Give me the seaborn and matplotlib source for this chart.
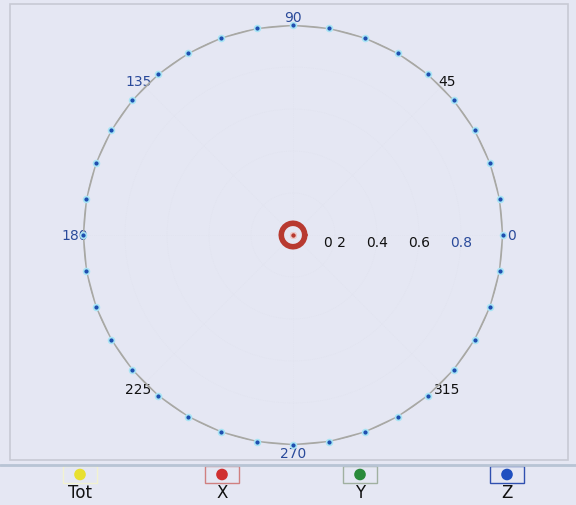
import numpy as np
import pandas as pd
import matplotlib
matplotlib.use("Agg")
import matplotlib.pyplot as plt
import matplotlib.transforms as mtransforms
from matplotlib.patches import Rectangle
import seaborn as sns

# ---- data ----
angles_deg = list(range(0, 360, 10))
tot_r = [1.0] * 36
z_r = [1.0] * 36
x_angles_deg = list(range(0, 361, 15))
x_r = [0.056] * len(x_angles_deg)
y_r = [0.0] * len(x_angles_deg)
theta_ticks = [0, 45, 90, 135, 180, 225, 270, 315]
theta_labels = ["0", "45", "90", "135", "180", "225", "270", "315"]
theta_label_colors = ["#2a4a9a", "#111111", "#2a4a9a", "#2a4a9a", "#2a4a9a", "#111111", "#2a4a9a", "#111111"]
r_ticks = [0.2, 0.4, 0.6, 0.8]
r_labels = ["0 2", "0.4", "0.6", "0.8"]
r_label_colors = ["#111111", "#111111", "#111111", "#2a4a9a"]
series_names = ["Tot", "X", "Y", "Z"]
series_colors = ["#e8e030", "#d03030", "#2a8a3a", "#2050c0"]
box_colors = ["#f2f2d0", "#d08080", "#a0b0a0", "#3050b0"]

sns.set_theme(style="white")
plt.rcParams['font.family'] = ['DejaVu Sans']
bg = "#e5e7f3"

fig = plt.figure(figsize=(5.76, 5.06), dpi=100, facecolor=bg)
W, H = 576, 506

# frame of plot area
fig.patches.append(Rectangle((10 / W, 1 - 461 / H), 558 / W, 456 / H, transform=fig.transFigure,
                             fill=False, edgecolor="#c8cad4", linewidth=1.2))
fig.lines.append(plt.Line2D([0, 1], [1 - 466 / H, 1 - 466 / H], transform=fig.transFigure,
                            color="#b8c4d4", linewidth=2.0))

cx, cy, R = 293, 236, 210
ax = fig.add_axes([(cx - R) / W, 1 - (cy + R) / H, 2 * R / W, 2 * R / H], projection="polar")
ax.set_facecolor(bg)
ax.patch.set_alpha(0)
ax.set_ylim(0, 1.0)
ax.spines["polar"].set_visible(False)
ax.grid(True, color="#e0e2ee", linewidth=0.5, linestyle=":")

df_tot = pd.DataFrame({"theta": np.deg2rad(angles_deg + [360]), "r": tot_r + tot_r[:1]})
df_z = pd.DataFrame({"theta": np.deg2rad(angles_deg), "r": z_r})
df_x = pd.DataFrame({"theta": np.deg2rad(x_angles_deg), "r": x_r})
df_y = pd.DataFrame({"theta": np.deg2rad(x_angles_deg), "r": y_r})

sns.lineplot(data=df_tot, x="theta", y="r", sort=False, ax=ax, color="#a8a8a4",
             linewidth=1.6, estimator=None)
sns.scatterplot(data=df_z, x="theta", y="r", ax=ax, color="#1f4fb0", s=18,
                edgecolor="#a8e4f4", linewidth=1.2, zorder=5, clip_on=False)
sns.lineplot(data=df_x, x="theta", y="r", sort=False, ax=ax, color="#b83a30",
             linewidth=4.0, estimator=None)
sns.scatterplot(data=df_y, x="theta", y="r", ax=ax, color="#b83a30", s=16,
                edgecolor="#f0d0d0", linewidth=0.8, zorder=6)
ax.set_xlabel("")
ax.set_ylabel("")

ax.set_xticks(np.deg2rad(theta_ticks))
ax.set_xticklabels(theta_labels, fontsize=10)
ax.tick_params(axis="x", pad=-7)
for lbl, c in zip(ax.get_xticklabels(), theta_label_colors):
    lbl.set_color(c)
ax.set_yticks(r_ticks)
ax.set_yticklabels([])
off = mtransforms.ScaledTranslation(0, -7 / 100, fig.dpi_scale_trans)
for r, t, c in zip(r_ticks, r_labels, r_label_colors):
    ax.text(0, r, t, transform=ax.transData + off, ha="center", va="center",
            fontsize=10, color=c)

# legend strip
lax = fig.add_axes([0, 0, 1, 40 / H])
lax.set_xlim(0, W)
lax.set_ylim(0, 40)
lax.axis("off")
leg_x = [80, 222, 360, 507]
for xx, name, col, bc in zip(leg_x, series_names, series_colors, box_colors):
    lax.add_patch(Rectangle((xx - 17, 22), 34, 17, fill=False, edgecolor=bc, linewidth=1.0))
    lax.text(xx, 13, name, ha="center", va="center", fontsize=12, color="#111111")
sns.scatterplot(x=leg_x, y=[30.5] * 4, hue=series_names, palette=series_colors, ax=lax,
                s=70, marker="o", edgecolor="none", legend=False, clip_on=False)
lax.set_xlim(0, W)
lax.set_ylim(0, 40)

fig.savefig("out.png", dpi=100, facecolor=bg)
